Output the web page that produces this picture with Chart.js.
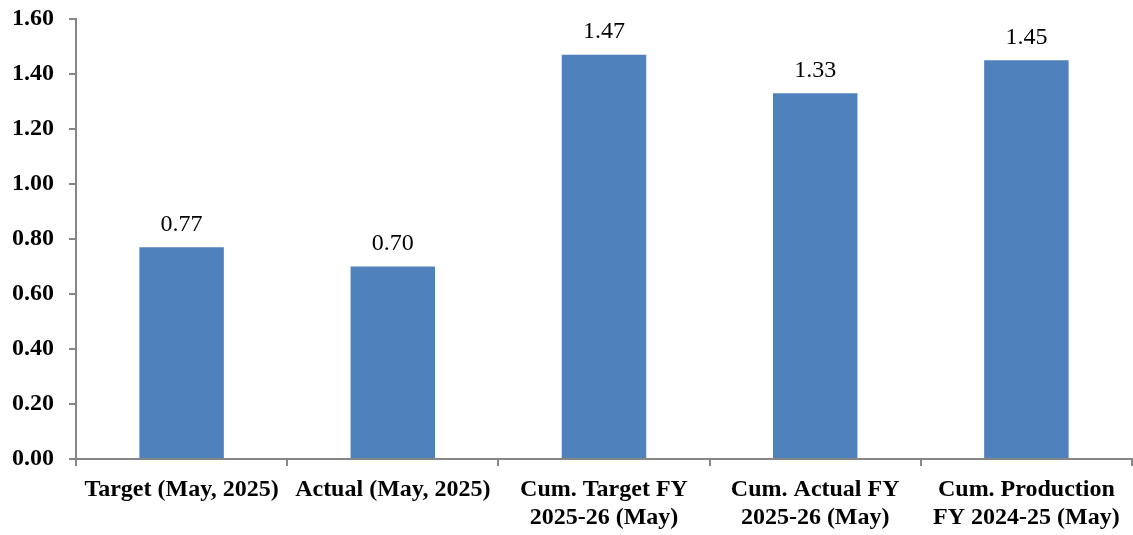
<!DOCTYPE html>
<html>
<head>
<meta charset="utf-8">
<script src="https://cdn.jsdelivr.net/npm/chart.js@4"></script>
<style>
  html, body { margin: 0; padding: 0; background: #fff; }
  #wrap { width: 1133px; height: 535px; position: relative; }
</style>
</head>
<body>
<div id="wrap"><canvas id="chart"></canvas></div>
<script>
const categories = [
  'Target (May, 2025)',
  'Actual (May, 2025)',
  ['Cum. Target FY', '2025-26 (May)'],
  ['Cum. Actual FY', '2025-26 (May)'],
  ['Cum. Production', 'FY 2024-25 (May)']
];
const values = [0.77, 0.70, 1.47, 1.33, 1.45];
const yMin = 0;
const yMax = 1.6;
const yStep = 0.2;

const axisColor = '#868686';
const serif = '"Liberation Serif", "Times New Roman", serif';

// labels above bars
const valueLabels = {
  id: 'valueLabels',
  afterDatasetsDraw(chart) {
    const ctx = chart.ctx;
    const meta = chart.getDatasetMeta(0);
    ctx.save();
    ctx.font = '24px ' + serif;
    ctx.fillStyle = '#000';
    ctx.textAlign = 'center';
    ctx.textBaseline = 'middle';
    meta.data.forEach((bar, i) => {
      ctx.fillText(values[i].toFixed(2), bar.x, bar.y - 23);
    });
    ctx.restore();
  }
};

new Chart(document.getElementById('chart'), {
  type: 'bar',
  data: {
    labels: categories,
    datasets: [{
      data: values,
      backgroundColor: '#4F81BD',
      categoryPercentage: 1,
      barPercentage: 0.4
    }]
  },
  options: {
    responsive: true,
    maintainAspectRatio: false,
    animation: false,
    layout: { padding: { top: 0, right: 1, left: 0, bottom: 0 } },
    plugins: { legend: { display: false }, tooltip: { enabled: false } },
    scales: {
      x: {
        grid: { display: true, drawOnChartArea: false, offset: true, color: axisColor, tickLength: 7, lineWidth: 2 },
        border: { color: axisColor, width: 2 },
        ticks: {
          color: '#000', autoSkip: false, maxRotation: 0, minRotation: 0, padding: 9,
          font: { family: serif, size: 24, weight: 'bold', lineHeight: 1.2 }
        },
        afterFit(scale) { scale.height = 76; }
      },
      y: {
        min: yMin, max: yMax,
        grid: { display: true, drawOnChartArea: false, color: axisColor, tickLength: 7, lineWidth: 2 },
        border: { color: axisColor, width: 2 },
        ticks: {
          stepSize: yStep, color: '#000', padding: 15,
          font: { family: serif, size: 24, weight: 'bold' },
          callback: v => v.toFixed(2)
        },
        afterFit(scale) {
          scale.width = 76;
          scale.paddingTop = 19;
          scale.paddingBottom = 0;
        }
      }
    }
  },
  plugins: [valueLabels]
});
</script>
</body>
</html>
